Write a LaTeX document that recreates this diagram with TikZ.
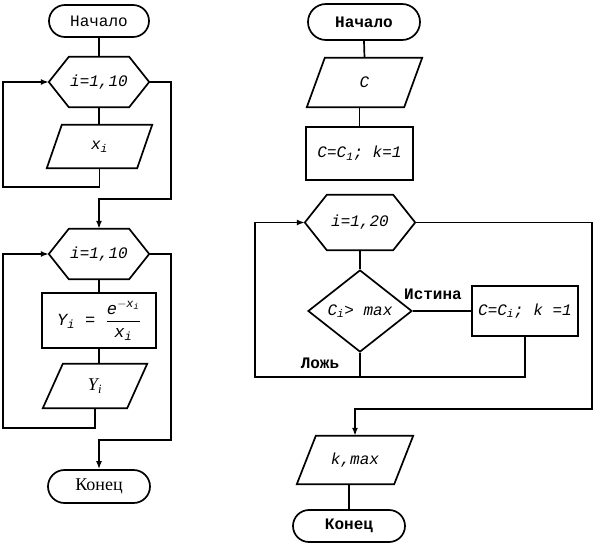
\documentclass[tikz,border=0pt]{standalone}
\usepackage{fontspec}
\usepackage{amsmath}
\setmainfont{Liberation Serif}
\setmonofont{Liberation Mono}
\usetikzlibrary{shapes,arrows.meta,positioning,calc}

\newcommand{\hexshape}[2]{\draw[link] (#1.west) -- ([xshift=#2]#1.north west) -- ([xshift=-#2]#1.north east) -- (#1.east) -- ([xshift=-#2]#1.south east) -- ([xshift=#2]#1.south west) -- cycle;}
\newcommand{\parashape}[2]{\draw[link] ([xshift=#2]#1.north west) -- (#1.north east) -- ([xshift=-#2]#1.south east) -- (#1.south west) -- cycle;}
\newcommand{\tv}[1]{\text{\ttfamily\itshape #1}}

\tikzset{
  link/.style={line width=1.7pt},
  arr/.style={line width=1.7pt,-{Latex[length=8pt,width=6pt]}},
  term/.style={rounded rectangle,draw,line width=1.7pt,minimum width=100pt,minimum height=32pt,inner sep=0pt},
  box/.style={rectangle,draw,line width=1.7pt,inner sep=0pt},
  hexbox/.style={rectangle,minimum width=100pt,minimum height=50pt,inner sep=0pt},
  parabox/.style={rectangle,inner sep=0pt},
  decision/.style={diamond,draw,line width=1.7pt,inner sep=0pt,minimum width=104pt,minimum height=82pt},
}

\begin{document}
\begin{tikzpicture}[x=1pt,y=-1pt,font=\fontsize{16}{19}\selectfont\ttfamily]
\useasboundingbox (0,0) rectangle (595,559);

% left scheme
\node[term] (startL) at (99,21) {Начало};
\node[hexbox] (loopA) at (99,82) {\itshape i=1,10};
\hexshape{loopA}{20pt}
\node[parabox,minimum width=105pt,minimum height=43pt] (inX) at (99.5,146.5) {\itshape x\textsubscript{i}};
\parashape{inX}{15pt}
\node[hexbox] (loopB) at (99,254) {\itshape i=1,10};
\hexshape{loopB}{20pt}
\node[box,minimum width=114pt,minimum height=55pt,font=\fontsize{17}{20}\selectfont\ttfamily] (calcY) at (99,320.5)
  {$\tv{Y}_{\tv{i}}\ \tv{=}\ \dfrac{\tv{e}^{-\tv{x}_{\tv{i}}}}{\tv{x}_{\tv{i}}}$};
\node[parabox,minimum width=104pt,minimum height=44pt] (outY) at (95,386) {\fontsize{18}{20}\selectfont\rmfamily\itshape Y\textsubscript{i}};
\parashape{outY}{20pt}
\node[term,minimum width=102pt,minimum height=33pt] (endL) at (99,486.5) {\fontsize{18}{20}\selectfont\rmfamily Конец};

\coordinate (lbA) at (3,187);
\coordinate (exA) at (171,199);
\coordinate (lbB) at (3,428);
\coordinate (exB) at (171,440);

\draw[link] (startL) -- (loopA.north);
\draw[link] (loopA.south) -- (loopA.south |- inX.north);
\draw[arr] (inX.south) |- (lbA) |- (loopA.west);
\draw[arr] (loopA.east) -| (exA) -| (loopB.north);
\draw[link] (loopB.south) -- (calcY.north);
\draw[link] (calcY.south) -- (calcY.south |- outY.north);
\draw[arr] (outY.south) |- (lbB) |- (loopB.west);
\draw[arr] (loopB.east) -| (exB) -| (endL.north);

% right scheme
\node[term,minimum width=112pt,minimum height=36pt] (startR) at (364,22) {\bfseries Начало};
\node[parabox,minimum width=115pt,minimum height=49pt] (inC) at (364.5,82.5) {\itshape C};
\parashape{inC}{18pt}
\node[box,minimum width=107pt,minimum height=53pt] (initR) at (359.5,153.5) {\itshape C=C\textsubscript{1}; k=1};
\node[hexbox,minimum width=110pt,minimum height=55pt] (loopR) at (360,222.5) {\itshape i=1,20};
\hexshape{loopR}{22pt}
\node[decision] (cond) at (360,311) {\itshape C\textsubscript{i}> max};
\node[box,minimum width=106pt,minimum height=50pt] (setR) at (525,311) {\itshape C=C\textsubscript{i}; k =1};
\node (lblT) at (433,294) {\bfseries Истина};
\node (lblF) at (320,363) {\bfseries Ложь};
\node[parabox,minimum width=116pt,minimum height=48pt] (outK) at (355,460) {\itshape k,max};
\parashape{outK}{19pt}
\node[term,minimum width=112pt,minimum height=32pt] (endR) at (349,526) {\bfseries Конец};

\coordinate (lbR) at (255,377);
\coordinate (exR) at (592,409);

\draw[link] (startR.south) -- (inC.north);
\draw[link] (initR.north |- inC.south) -- (initR.north);
\draw[link] (loopR.south) -- (cond.north);
\draw[link] (cond.east) -- (setR.west);
\draw[link] (cond.south) -- (cond.south |- lbR);
\draw[arr] (setR.south) |- (lbR) |- (loopR.west);
\draw[arr] (loopR.east) -| (exR) -| (outK.north);
\draw[link] (endR.north |- outK.south) -- (endR.north);
\end{tikzpicture}
\end{document}
